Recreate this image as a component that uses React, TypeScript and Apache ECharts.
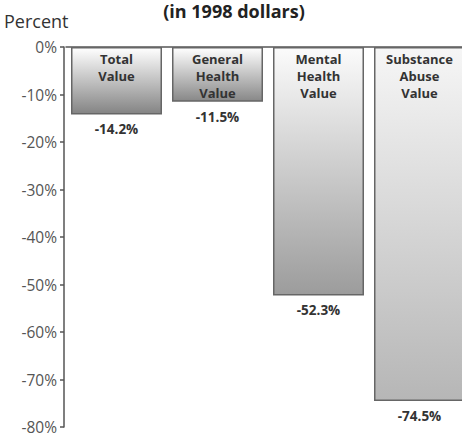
import React, { useEffect, useRef } from "react";
import * as echarts from "echarts";

const categories = ["Total\nValue", "General\nHealth\nValue", "Mental\nHealth\nValue", "Substance\nAbuse\nValue"];
const values = [-14.2, -11.5, -52.3, -74.5];
const valueLabels = ["-14.2%", "-11.5%", "-52.3%", "-74.5%"];
const yTicks = { min: -80, max: 0, interval: 10 };
const subtitle = "(in 1998 dollars)";
const yAxisName = "Percent";

const gradientTop = ["#ffffff", "#ffffff", "#fbfbfb", "#f6f6f6"];
const gradientBottom = ["#848484", "#888888", "#9c9c9c", "#b6b6b6"];

const FONT = "'Open Sans', 'Noto Sans', sans-serif";

export default function App() {
  const ref = useRef<HTMLDivElement>(null);
  useEffect(() => {
    document.body.style.margin = "0";
    const chart = echarts.init(ref.current!, null, { renderer: "svg" });
    const data = values.map((v, i) => ({
      value: v,
      itemStyle: {
        color: new echarts.graphic.LinearGradient(0, 0, 0, 1, [
          { offset: 0, color: gradientTop[i] },
          { offset: 1, color: gradientBottom[i] },
        ]),
        borderColor: "#666",
        borderWidth: 1.5,
      },
    }));
    chart.setOption({
      animation: false,
      backgroundColor: "#ffffff",
      textStyle: { fontFamily: FONT },
      grid: { left: 66, top: 47, width: 404, bottom: 10, containLabel: false, outerBoundsMode: "none" },
      graphic: [
        {
          type: "text",
          x: 234,
          y: 11,
          style: {
            text: subtitle,
            fontFamily: FONT,
            fontWeight: "bold",
            fontSize: 18,
            fill: "#222",
            align: "center",
            verticalAlign: "middle",
          },
        },
        {
          type: "text",
          x: 4,
          y: 21,
          style: {
            text: yAxisName,
            fontFamily: FONT,
            fontSize: 18,
            fill: "#333",
            align: "left",
            verticalAlign: "middle",
          },
        },
      ],
      xAxis: {
        type: "category",
        position: "top",
        data: categories,
        axisLine: { show: true, lineStyle: { color: "#555", width: 1.5 } },
        axisTick: { show: false },
        axisLabel: { show: false },
        splitLine: { show: false },
      },
      yAxis: {
        type: "value",
        min: yTicks.min,
        max: yTicks.max,
        interval: yTicks.interval,
        offset: 2,
        axisLine: { show: true, lineStyle: { color: "#555", width: 1.5 } },
        axisTick: { show: true, length: 4, lineStyle: { color: "#555", width: 1.5 } },
        axisLabel: {
          formatter: (v: number) => `${v}%`,
          color: "#555",
          fontSize: 15.5,
          lineHeight: 15,
          fontFamily: FONT,
          margin: 7,
        },
        splitLine: { show: false },
      },
      series: [
        {
          type: "bar",
          data,
          barWidth: 91,
          label: {
            show: true,
            position: "insideTop",
            distance: 3,
            formatter: (p: any) => categories[p.dataIndex],
            fontFamily: FONT,
            fontWeight: "bold",
            fontSize: 13,
            lineHeight: 17,
            color: "#333",
            align: "center",
          },
        },
        {
          type: "bar",
          data: values,
          barWidth: 91,
          barGap: "-100%",
          itemStyle: { color: "rgba(0,0,0,0)" },
          silent: true,
          label: {
            show: true,
            position: "bottom",
            distance: 8,
            formatter: (p: any) => valueLabels[p.dataIndex],
            fontFamily: FONT,
            fontWeight: "bold",
            fontSize: 13.5,
            color: "#333",
          },
        },
      ],
    });
    return () => chart.dispose();
  }, []);
  return <div ref={ref} style={{ width: 462, height: 437 }} />;
}
